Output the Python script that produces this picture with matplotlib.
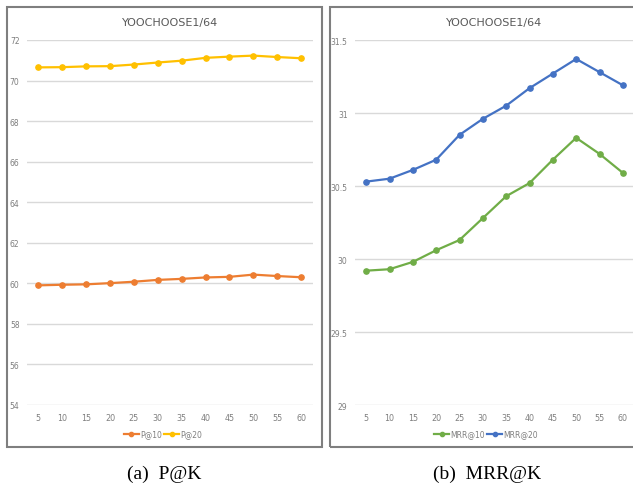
import matplotlib
matplotlib.use("Agg")
import matplotlib.pyplot as plt
from matplotlib.patches import Rectangle

k_labels = ["5", "10", "15", "20", "25", "30", "35", "40", "45", "50", "55", "60"]
p10 = [59.90, 59.93, 59.95, 60.01, 60.08, 60.17, 60.22, 60.29, 60.32, 60.43, 60.36, 60.30]
p20 = [70.65, 70.66, 70.70, 70.71, 70.79, 70.89, 70.98, 71.12, 71.18, 71.23, 71.16, 71.10]
mrr10 = [29.92, 29.93, 29.98, 30.06, 30.13, 30.28, 30.43, 30.52, 30.68, 30.83, 30.72, 30.59]
mrr20 = [30.53, 30.55, 30.61, 30.68, 30.85, 30.96, 31.05, 31.17, 31.27, 31.37, 31.28, 31.19]
title = "YOOCHOOSE1/64"
captions = ["(a)  P@K", "(b)  MRR@K"]

W, H = 633, 489
fig = plt.figure(figsize=(W / 100, H / 100), dpi=100)
fig.patch.set_facecolor("white")

def fx(px):
    return px / W

def fy(py):
    return 1 - py / H

# panel borders
for x0, x1 in [(7, 321.5), (329.5, 640)]:
    fig.patches.append(Rectangle((fx(x0), fy(448)), fx(x1 - x0), (448 - 8) / H,
                                 transform=fig.transFigure, fill=False,
                                 edgecolor="#7f7f7f", linewidth=1.5))

gray = "#595959"
grid = "#d9d9d9"

def make_ax(x0, x1, ylim, yticks, ylabels, series, names, colors, legend_x):
    ax = fig.add_axes([fx(x0), fy(406), fx(x1 - x0), (406 - 41) / H])
    xs = list(range(len(k_labels)))
    handles = []
    for vals, name, c in zip(series, names, colors):
        ln, = ax.plot(xs, vals, color=c, linewidth=1.6, marker="o", markersize=3.8, label=name)
        handles.append(ln)
    ax.set_xlim(-0.5, len(k_labels) - 0.5)
    ax.set_ylim(*ylim)
    ax.set_yticks(yticks)
    ax.set_yticklabels(ylabels)
    ax.set_xticks(xs)
    ax.set_xticklabels(k_labels)
    ax.tick_params(axis="y", length=0, labelsize=5.5, colors="#7f7f7f", pad=5)
    ax.tick_params(axis="x", length=0, labelsize=5.8, colors="#7f7f7f", pad=6)
    for s in ax.spines.values():
        s.set_visible(False)
    ax.yaxis.grid(True, color=grid, linewidth=1)
    ax.set_axisbelow(True)
    ax.set_title(title, fontsize=8, color=gray, pad=11)
    fig.legend(handles=handles, loc="center", bbox_to_anchor=(fx(legend_x), fy(435)),
               ncol=2, frameon=False, fontsize=5.5, labelcolor="#7f7f7f",
               handlelength=2.0, handletextpad=0.15, columnspacing=0.25, markerscale=0.8)
    return ax

make_ax(26.5, 313, (54, 72), [54, 56, 58, 60, 62, 64, 66, 68, 70, 72],
        ["54", "56", "58", "60", "62", "64", "66", "68", "70", "72"],
        [p10, p20], ["P@10", "P@20"], ["#ED7D31", "#FFC000"], 163)
make_ax(354.5, 634.5, (29, 31.5), [29, 29.5, 30, 30.5, 31, 31.5],
        ["29", "29.5", "30", "30.5", "31", "31.5"],
        [mrr10, mrr20], ["MRR@10", "MRR@20"], ["#70AD47", "#4472C4"], 486)

fig.text(fx(164), fy(474), captions[0], ha="center", va="center",
         fontsize=14, family="Liberation Serif")
fig.text(fx(487), fy(474), captions[1], ha="center", va="center",
         fontsize=14, family="Liberation Serif")

fig.savefig("out.png", dpi=100)
